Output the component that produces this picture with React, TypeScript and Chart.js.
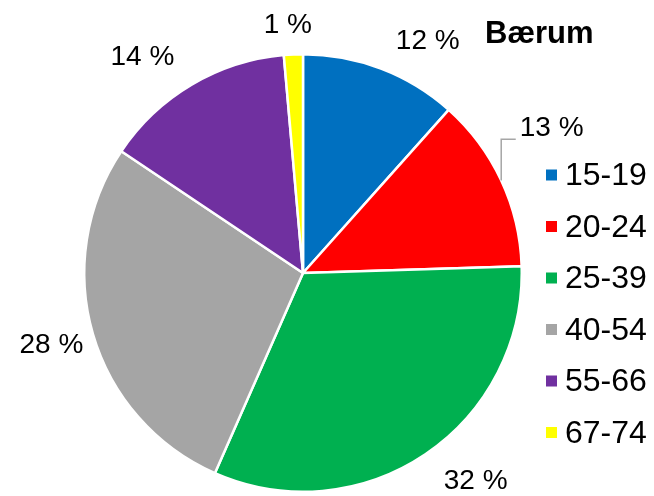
import React, { useEffect, useRef } from "react";
import { Chart, registerables } from "chart.js";

Chart.register(...registerables);

const categories = ["15-19", "20-24", "25-39", "40-54", "55-66", "67-74"];
const shares = [11.6, 12.9, 32.1, 27.8, 14.2, 1.4];
const colors = ["#0070C0", "#FF0000", "#00B050", "#A5A5A5", "#7030A0", "#FFFF00"];
const chartTitle = "Bærum";

// label placement style (angle nudge in degrees, gap beyond outer radius in px)
const labelNudgeDeg = [7.4, -5.2, -5.6, 0.2, -6.1, -1];
const labelGap = [44.5, 69, 52, 43, 50, 29.5];
const leaderFor = [false, true, false, false, false, false];

const FONT = "'Liberation Sans', Arial, sans-serif";

const overlayPlugin = {
  id: "overlay",
  afterDraw(chart: any) {
    const ctx = chart.ctx as CanvasRenderingContext2D;
    const meta = chart.getDatasetMeta(0);
    ctx.save();
    // data labels
    ctx.font = `28px ${FONT}`;
    ctx.fillStyle = "#000";
    ctx.textAlign = "center";
    ctx.textBaseline = "middle";
    meta.data.forEach((arc: any, i: number) => {
      const p = arc.getProps(["x", "y", "startAngle", "endAngle", "outerRadius"], true);
      const mid = (p.startAngle + p.endAngle) / 2;
      const a = mid + (labelNudgeDeg[i] * Math.PI) / 180;
      const d = p.outerRadius + labelGap[i];
      const lx = p.x + Math.cos(a) * d;
      const ly = p.y + Math.sin(a) * d;
      const text = `${Math.round(shares[i])} %`;
      ctx.fillText(text, lx, ly);
      if (leaderFor[i]) {
        const w = ctx.measureText(text).width;
        const sx = p.x + Math.cos(mid) * p.outerRadius;
        const sy = p.y + Math.sin(mid) * p.outerRadius;
        ctx.strokeStyle = "#A6A6A6";
        ctx.lineWidth = 1.5;
        ctx.beginPath();
        ctx.moveTo(sx, sy);
        ctx.lineTo(sx, ly + 11);
        ctx.lineTo(lx - w / 2 - 4, ly + 11);
        ctx.stroke();
      }
    });
    // title
    ctx.font = `bold 31px ${FONT}`;
    ctx.textAlign = "left";
    ctx.fillText(chartTitle, 485, 34);
    // legend
    ctx.font = `32px ${FONT}`;
    categories.forEach((c, i) => {
      const cy = 175 + i * 51.5;
      ctx.fillStyle = colors[i];
      ctx.fillRect(546, cy - 5.5, 11, 11);
      ctx.fillStyle = "#000";
      ctx.fillText(c, 565, cy + 1.5);
    });
    ctx.restore();
  },
};

export default function App() {
  const ref = useRef<HTMLCanvasElement | null>(null);
  useEffect(() => {
    if (!ref.current) return;
    const chart = new Chart(ref.current, {
      type: "pie",
      data: {
        labels: categories,
        datasets: [
          {
            data: shares,
            backgroundColor: colors,
            borderColor: "#FFFFFF",
            borderWidth: 2.5,
          },
        ],
      },
      options: {
        responsive: false,
        animation: false,
        layout: { padding: { left: 83, right: 131, top: 53, bottom: 3 } },
        plugins: {
          legend: { display: false },
          tooltip: { enabled: false },
          title: { display: false },
        },
      },
      plugins: [overlayPlugin],
    });
    return () => chart.destroy();
  }, []);
  return (
    <div style={{ position: "absolute", left: 0, top: 0, width: 654, height: 496, background: "#fff" }}>
      <canvas ref={ref} width={654} height={496} />
    </div>
  );
}
